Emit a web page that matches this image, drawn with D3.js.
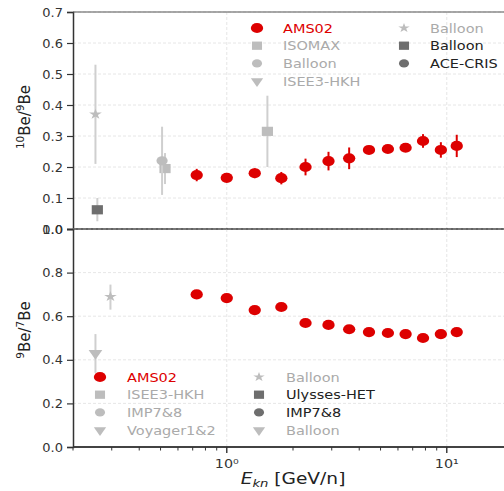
<!DOCTYPE html>
<html>
<head>
<meta charset="utf-8">
<script src="https://cdn.jsdelivr.net/npm/d3@7"></script>
<style>
    body { margin: 0; background: #fff; }
    text { font-family: "DejaVu Sans", sans-serif; }
</style>
</head>
<body>
<svg id="chart" width="504" height="491"></svg>
<script>
// AMS02 energies (GeV/n)
var amsEnergy = [0.73, 1.0, 1.34, 1.77, 2.28, 2.9, 3.6, 4.43, 5.4, 6.5, 7.8, 9.4, 11.1];
var amsBe10Be9 = [0.174, 0.165, 0.18, 0.164, 0.2, 0.219, 0.228, 0.255, 0.258, 0.262, 0.284, 0.255, 0.268];
var amsBe10Be9Err = [0.02, 0.008, 0.016, 0.02, 0.027, 0.03, 0.035, 0.01, 0.01, 0.012, 0.022, 0.025, 0.036];
var amsBe9Be7 = [0.70, 0.683, 0.628, 0.642, 0.569, 0.56, 0.54, 0.527, 0.523, 0.518, 0.50, 0.518, 0.527];
var amsBe9Be7Err = [0.008, 0.008, 0.008, 0.008, 0.008, 0.008, 0.008, 0.008, 0.008, 0.008, 0.008, 0.008, 0.008];

// other experiments, 10Be/9Be
var isomaxEnergy = [0.524, 1.53];
var isomaxValue = [0.195, 0.315];
var isomaxLow = [0.145, 0.2];
var isomaxHigh = [0.245, 0.43];
var balloonCircleEnergy = [0.508];
var balloonCircleValue = [0.22];
var balloonCircleLow = [0.11];
var balloonCircleHigh = [0.33];
var balloonStarEnergy = [0.253];
var balloonStarValue = [0.37];
var balloonStarLow = [0.21];
var balloonStarHigh = [0.53];
var balloonSquareEnergy = [0.258];
var balloonSquareValue = [0.062];
var balloonSquareLow = [0.025];
var balloonSquareHigh = [0.1];

// other experiments, 9Be/7Be
var balloon97StarEnergy = [0.296];
var balloon97StarValue = [0.69];
var balloon97StarLow = [0.63];
var balloon97StarHigh = [0.745];
var balloon97TriEnergy = [0.253];
var balloon97TriValue = [0.43];
var balloon97TriLow = [0.34];
var balloon97TriHigh = [0.518];

var xTickValues = [1, 10];
var xTickLabels = ["10⁰", "10¹"];
var topTicks = [0, 0.1, 0.2, 0.3, 0.4, 0.5, 0.6, 0.7];
var bottomTicks = [0, 0.2, 0.4, 0.6, 0.8, 1.0];

(function () {
    var RED = "#dd0000";
    var LIGHT = "#bdbdbd";
    var DARK = "#6e6e6e";
    var left = 73, right = 513;
    var svg = d3.select("#chart");

    var x = d3.scaleLog().domain([0.2, 20]).range([left, right]);
    var yTop = d3.scaleLinear().domain([0, 0.7]).range([229, 12]);
    var yBot = d3.scaleLinear().domain([0, 1.0]).range([447, 229]);

    function zipSym(e, v, err) {
        return e.map(function (d, i) { return { e: d, v: v[i], lo: v[i] - err[i], hi: v[i] + err[i] }; });
    }
    function zip(e, v, lo, hi) {
        return e.map(function (d, i) { return { e: d, v: v[i], lo: lo[i], hi: hi[i] }; });
    }

    var topSeries = [
        { name: "AMS02", shape: "circle", color: RED, text: RED, size: 5.5, data: zipSym(amsEnergy, amsBe10Be9, amsBe10Be9Err) },
        { name: "ISOMAX", shape: "square", color: LIGHT, text: "#aaaaaa", size: 5, data: zip(isomaxEnergy, isomaxValue, isomaxLow, isomaxHigh) },
        { name: "Balloon", shape: "circle", color: LIGHT, text: "#aaaaaa", size: 5, data: zip(balloonCircleEnergy, balloonCircleValue, balloonCircleLow, balloonCircleHigh) },
        { name: "ISEE3-HKH", shape: "triangle", color: LIGHT, text: "#aaaaaa", size: 5, data: [] },
        { name: "Balloon", shape: "star", color: LIGHT, text: "#aaaaaa", size: 5, data: zip(balloonStarEnergy, balloonStarValue, balloonStarLow, balloonStarHigh) },
        { name: "Balloon", shape: "square", color: DARK, text: "#222222", size: 5, data: zip(balloonSquareEnergy, balloonSquareValue, balloonSquareLow, balloonSquareHigh) },
        { name: "ACE-CRIS", shape: "circle", color: DARK, text: "#222222", size: 5, data: [] }
    ];

    var bottomSeries = [
        { name: "AMS02", shape: "circle", color: RED, text: RED, size: 5.5, data: zipSym(amsEnergy, amsBe9Be7, amsBe9Be7Err) },
        { name: "ISEE3-HKH", shape: "square", color: LIGHT, text: "#aaaaaa", size: 5, data: [] },
        { name: "IMP7&8", shape: "circle", color: LIGHT, text: "#aaaaaa", size: 5, data: [] },
        { name: "Voyager1&2", shape: "triangle", color: LIGHT, text: "#aaaaaa", size: 5, data: [] },
        { name: "Balloon", shape: "star", color: LIGHT, text: "#aaaaaa", size: 5, data: zip(balloon97StarEnergy, balloon97StarValue, balloon97StarLow, balloon97StarHigh) },
        { name: "Ulysses-HET", shape: "square", color: DARK, text: "#222222", size: 5, data: [] },
        { name: "IMP7&8", shape: "circle", color: DARK, text: "#222222", size: 5, data: [] },
        { name: "Balloon", shape: "triangle", color: LIGHT, text: "#aaaaaa", size: 5, data: zip(balloon97TriEnergy, balloon97TriValue, balloon97TriLow, balloon97TriHigh) }
    ];

    function symbolFor(shape, size) {
        var type = { circle: d3.symbolCircle, square: d3.symbolSquare, star: d3.symbolStar, triangle: d3.symbolTriangle }[shape];
        var area = { circle: Math.PI * size * size, square: 4 * size * size, star: 1.6 * size * size, triangle: 2.6 * size * size }[shape];
        return d3.symbol().type(type).size(area)();
    }

    // the source image is a bit stretched sideways, so markers are slightly oval
    function drawMarker(g, s, cx, cy) {
        var rot = s.shape === "triangle" ? " rotate(180)" : "";
        g.append("path")
            .attr("d", symbolFor(s.shape, s.size))
            .attr("transform", "translate(" + cx + "," + cy + ") scale(1.12,0.92)" + rot)
            .attr("fill", s.color);
    }

    function drawPanel(y, ticks, series, clipId) {
        var g = svg.append("g");
        var top = y.range()[1], bottom = y.range()[0];

        svg.append("clipPath").attr("id", clipId)
            .append("rect").attr("x", left).attr("y", top).attr("width", right - left).attr("height", bottom - top);

        // grid
        g.selectAll(".hgrid").data(ticks).enter().append("line")
            .attr("x1", left).attr("x2", right)
            .attr("y1", function (d) { return y(d); }).attr("y2", function (d) { return y(d); })
            .attr("stroke", "#e0e0e0").attr("stroke-width", 0.8).attr("stroke-dasharray", "3,2");
        g.selectAll(".vgrid").data(xTickValues).enter().append("line")
            .attr("x1", function (d) { return x(d); }).attr("x2", function (d) { return x(d); })
            .attr("y1", top).attr("y2", bottom)
            .attr("stroke", "#e0e0e0").attr("stroke-width", 0.8).attr("stroke-dasharray", "3,2");

        var plot = g.append("g").attr("clip-path", "url(#" + clipId + ")");
        // non-AMS first, AMS on top
        series.slice(1).concat([series[0]]).forEach(function (s) {
            var isAms = s.name === "AMS02";
            plot.selectAll(null).data(s.data).enter().append("line")
                .attr("x1", function (d) { return x(d.e); }).attr("x2", function (d) { return x(d.e); })
                .attr("y1", function (d) { return y(d.lo); }).attr("y2", function (d) { return y(d.hi); })
                .attr("stroke", isAms ? s.color : "#cfcfcf").attr("stroke-width", 2);
            s.data.forEach(function (d) { drawMarker(plot, s, x(d.e), y(d.v)); });
        });

        // y axis
        var yAxis = d3.axisLeft(y).tickValues(ticks).tickSize(6).tickPadding(4)
            .tickFormat(d3.format(".1f"));
        var ya = g.append("g").attr("transform", "translate(" + left + ",0)").call(yAxis);
        ya.select(".domain").attr("stroke", "#333").attr("stroke-width", 1.5);
        ya.selectAll(".tick line").attr("stroke", "#333").attr("stroke-width", 1.2);
        ya.selectAll("text").attr("font-size", 13).attr("fill", "#333")
            .style("font-family", "DejaVu Sans, sans-serif");

        g.append("line").attr("x1", left).attr("x2", right).attr("y1", top).attr("y2", top)
            .attr("stroke", "#555").attr("stroke-width", 1.2);
        g.append("line").attr("x1", left).attr("x2", right).attr("y1", bottom).attr("y2", bottom)
            .attr("stroke", "#444").attr("stroke-width", 1.4);
        return g;
    }

    function drawLegend(series, cols, x0, dx, textOff, y0, dy) {
        var g = svg.append("g");
        series.forEach(function (s, i) {
            var col = i < cols ? 0 : 1;
            var row = i < cols ? i : i - cols;
            var cx = x0 + col * dx, cy = y0 + row * dy;
            drawMarker(g, { shape: s.shape, color: s.color, size: s.name === "AMS02" ? 5.5 : 4.5 }, cx, cy);
            g.append("text").attr("transform", "translate(" + (cx + textOff) + "," + (cy + 4.5) + ") scale(1.16,1)")
                .attr("font-size", 12.5).attr("fill", s.text).text(s.name);
        });
    }

    drawPanel(yTop, topTicks, topSeries, "clipTop");
    drawPanel(yBot, bottomTicks, bottomSeries, "clipBot");

    // bottom x axis with minor ticks
    var minor = [];
    [0.1, 1, 10].forEach(function (dec) {
        for (var k = 2; k <= 9; k++) {
            var v = dec * k;
            if (v >= 0.2 && v <= 20) minor.push(v);
        }
    });
    var xa = svg.append("g").attr("transform", "translate(0,447)");
    xa.append("line").attr("x1", left).attr("x2", right).attr("stroke", "#333").attr("stroke-width", 1.5);
    xa.selectAll(".minor").data(minor).enter().append("line")
        .attr("x1", function (d) { return x(d); }).attr("x2", function (d) { return x(d); })
        .attr("y1", 0).attr("y2", 3.5).attr("stroke", "#333").attr("stroke-width", 1);
    xa.selectAll(".major").data(xTickValues).enter().append("line")
        .attr("x1", function (d) { return x(d); }).attr("x2", function (d) { return x(d); })
        .attr("y1", 0).attr("y2", 6).attr("stroke", "#333").attr("stroke-width", 1.4);
    xa.selectAll(".lab").data(xTickValues).enter().append("text")
        .attr("transform", function (d) { return "translate(" + x(d) + ",21) scale(1.1,1)"; })
        .attr("text-anchor", "middle").attr("font-size", 13).attr("fill", "#333")
        .text(function (d, i) { return xTickLabels[i]; });

    // axis titles
    var xt = svg.append("text").attr("transform", "translate(293,484) scale(1.2,1)").attr("text-anchor", "middle")
        .attr("font-size", 15.5).attr("fill", "#222");
    xt.append("tspan").attr("font-style", "italic").text("E");
    xt.append("tspan").attr("font-style", "italic").attr("font-size", 11).attr("dy", 3).text("kn");
    xt.append("tspan").attr("dy", -3).text(" [GeV/n]");

    function yTitle(cy, a, b, c, d) {
        var t = svg.append("text").attr("transform", "translate(30," + cy + ") rotate(-90)")
            .attr("text-anchor", "middle").attr("font-size", 15).attr("fill", "#222");
        t.append("tspan").attr("font-size", 10.5).attr("dy", -6).text(a);
        t.append("tspan").attr("dy", 6).text(b);
        t.append("tspan").attr("font-size", 10.5).attr("dy", -6).text(c);
        t.append("tspan").attr("dy", 6).text(d);
    }
    yTitle(117, "10", "Be/", "9", "Be");
    yTitle(330, "9", "Be/", "7", "Be");

    drawLegend(topSeries, 4, 257, 147, 26, 28, 17.7);
    drawLegend(bottomSeries, 4, 100, 159, 27, 377, 17.7);
})();
</script>
</body>
</html>
